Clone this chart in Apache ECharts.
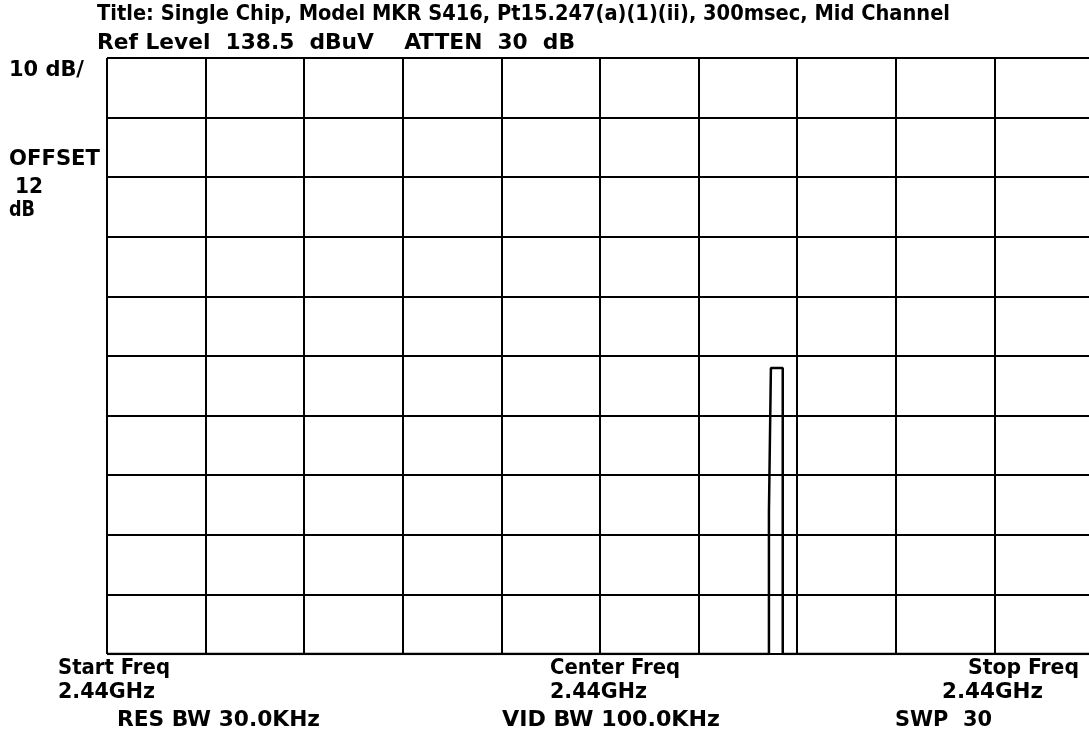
<!DOCTYPE html>
<html><head><meta charset="utf-8">
<script src="https://cdn.jsdelivr.net/npm/echarts@6/dist/echarts.min.js"></script>
<style>html,body{margin:0;padding:0;background:#fff;overflow:hidden}#c{width:1093px;height:735px}</style>
</head><body><div id="c"></div>
<script>
// Instrument settings
const refLevel = 138.5;          // dBuV, top of screen
const dbPerDiv = 10;
const sweepMs = 300;             // sweep time (zero span)
// Trace (time in ms, level in dBuV); floor sits at screen bottom
const traceTime  = [0,    201.4, 201.4, 202.0, 202.0, 205.6, 205.6, 300];
const traceLevel = [38.5, 38.5,  62.3,  62.5,  86.5,  86.5,  38.5,  38.5];

const titleText = 'Title: Single Chip, Model MKR S416, Pt15.247(a)(1)(ii), 300msec, Mid Channel';
const refLine   = 'Ref Level  138.5  dBuV    ATTEN  30  dB';
const sideLabels = ['10 dB/', 'OFFSET', '12', 'dB'];
const freqLabels = ['Start Freq', 'Center Freq', 'Stop Freq'];
const freqValues = ['2.44GHz', '2.44GHz', '2.44GHz'];
const bwLabels   = ['RES BW 30.0KHz', 'VID BW 100.0KHz', 'SWP  30'];

const FONT = 'bold 22px "DejaVu Sans Condensed", "Liberation Sans Narrow", sans-serif';
const chart = echarts.init(document.getElementById('c'));
const data = traceTime.map((t, i) => [t, traceLevel[i] - refLevel]);

const ctx = document.createElement('canvas').getContext('2d');
ctx.font = FONT;
// place text so it spans [x0, x1] with cap-centre at yc
function txt(s, x0, x1, yc) {
  const w = ctx.measureText(s).width;
  return { type: 'text', x: x0, y: yc, scaleX: (x1 - x0) / w,
    style: { text: s, font: FONT, fill: '#000', align: 'left', verticalAlign: 'middle' } };
}

chart.setOption({
  animation: false,
  backgroundColor: '#fff',
  grid: { left: 107, top: 58, right: 0, bottom: 81, containLabel: false },
  xAxis: {
    type: 'value', min: 0, max: sweepMs, interval: sweepMs / 10,
    axisLine: { show: false }, axisTick: { show: false }, axisLabel: { show: false },
    splitLine: { show: true, lineStyle: { color: '#000', width: 2 } }
  },
  yAxis: {
    type: 'value', min: -10 * dbPerDiv, max: 0, interval: dbPerDiv,
    axisLine: { show: false }, axisTick: { show: false }, axisLabel: { show: false },
    splitLine: { show: true, lineStyle: { color: '#000', width: 2 } }
  },
  series: [{
    type: 'line', data: data, symbol: 'none', clip: true,
    lineStyle: { color: '#000', width: 2.5 }
  }],
  graphic: [
    txt(titleText, 97, 950, 14),
    txt(refLine, 97, 575, 43),
    txt(sideLabels[0], 9, 84, 70),
    txt(sideLabels[1], 9, 100, 159),
    txt(sideLabels[2], 15, 43, 187),
    txt(sideLabels[3], 9, 35, 210),
    txt(freqLabels[0], 58, 170, 668),
    txt(freqValues[0], 58, 155, 692),
    txt(bwLabels[0], 117, 320, 720),
    txt(freqLabels[1], 550, 680, 668),
    txt(freqValues[1], 550, 647, 692),
    txt(bwLabels[1], 502, 720, 720),
    txt(freqLabels[2], 968, 1079, 668),
    txt(freqValues[2], 942, 1043, 692),
    txt(bwLabels[2], 895, 992, 720)
  ]
});
</script></body></html>
